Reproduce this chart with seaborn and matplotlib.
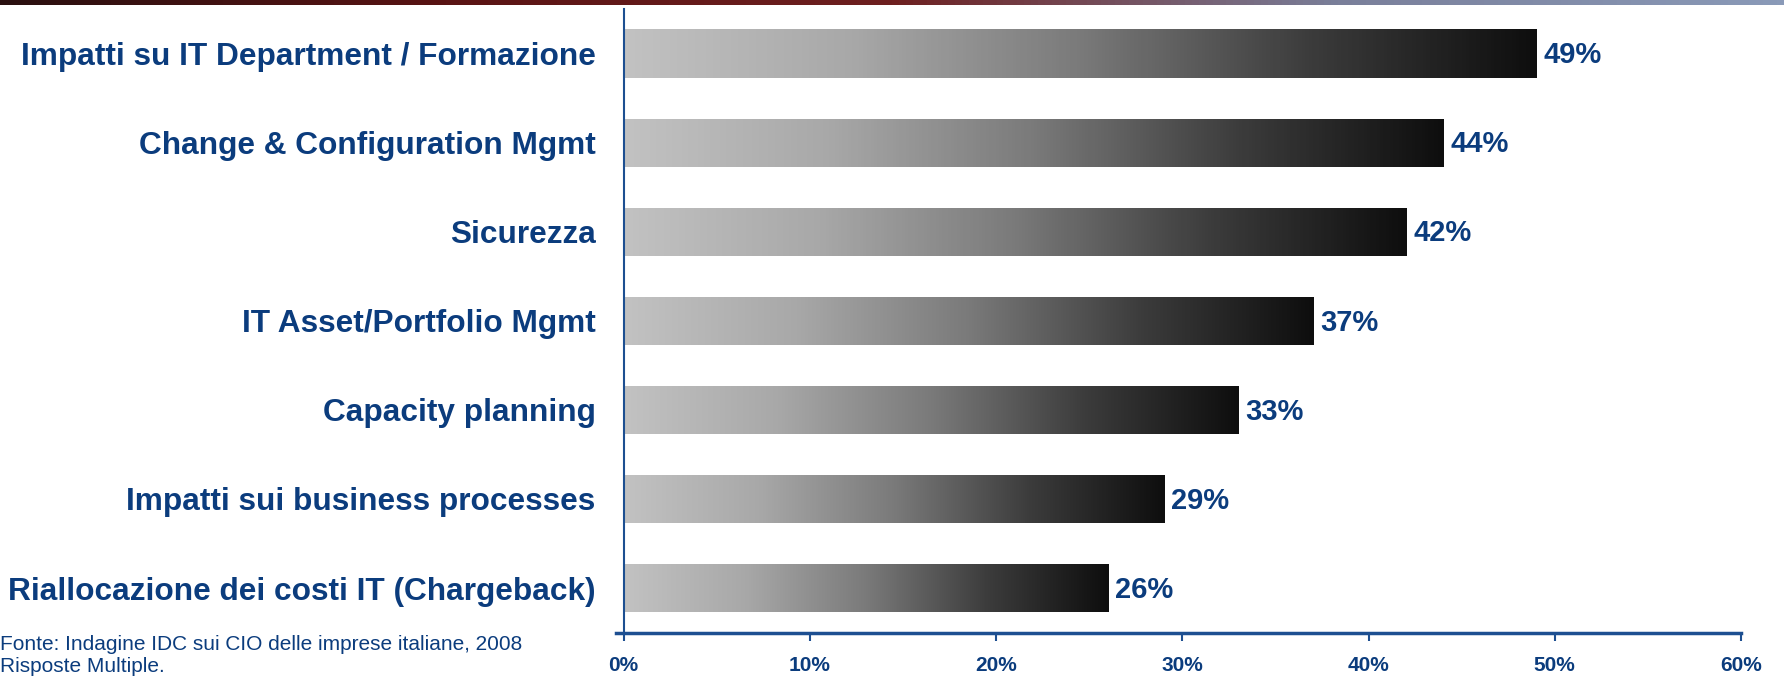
import numpy as np
import pandas as pd
import matplotlib
matplotlib.use("Agg")
import matplotlib.pyplot as plt
from matplotlib.colors import LinearSegmentedColormap
import seaborn as sns

categorie = [
    "Impatti su IT Department / Formazione",
    "Change & Configuration Mgmt",
    "Sicurezza",
    "IT Asset/Portfolio Mgmt",
    "Capacity planning",
    "Impatti sui business processes",
    "Riallocazione dei costi IT (Chargeback)",
]
valori = [49, 44, 42, 37, 33, 29, 26]
tick_vals = [0, 10, 20, 30, 40, 50, 60]
tick_labels = ["0%", "10%", "20%", "30%", "40%", "50%", "60%"]

BLU = "#0b3c7d"
ASSE = "#1d4f91"

sns.set_theme(style="white")
plt.rcParams["font.family"] = ["Liberation Sans", "DejaVu Sans"]

df = pd.DataFrame({"categoria": categorie, "valore": valori})

fig = plt.figure(figsize=(17.84, 6.76), dpi=100)
ax = fig.add_axes([0.3495, 0.0642, 0.6264, 0.9225])

sns.barplot(data=df, x="valore", y="categoria", ax=ax, color="#999999",
            width=0.54, orient="h")

# gradiente grigio chiaro -> nero dentro ogni barra
grad = LinearSegmentedColormap.from_list("g", ["#c2c2c2", "#a8a8a8", "#7a7a7a", "#3c3c3c", "#0e0e0e"])
row = np.linspace(0, 1, 256).reshape(1, -1)
for p in ax.patches:
    x0, y0 = p.get_x(), p.get_y()
    w, h = p.get_width(), p.get_height()
    p.set_facecolor("none")
    p.set_edgecolor("none")
    im = ax.imshow(row, cmap=grad, aspect="auto",
                   extent=[x0, x0 + w, y0 + h, y0], zorder=2)
    im.set_clip_path(p)
    ax.text(x0 + w + 0.4, y0 + h / 2 + 0.02, f"{int(round(w))}%", va="center", ha="left",
            fontsize=21, fontweight="bold", color=BLU)

ax.set_xlim(0, 60)
ax.set_ylim(6.5, -0.5)
ax.set_xticks(tick_vals)
ax.set_xticklabels(tick_labels, fontsize=15, fontweight="bold", color=BLU)
ax.set_xlabel("")
ax.set_ylabel("")
ax.tick_params(axis="x", direction="out", length=6, width=1.5, color=ASSE, pad=11, bottom=True)
ax.tick_params(axis="y", length=0, pad=20)
for lab in ax.get_yticklabels():
    lab.set_fontsize(22.8)
    lab.set_fontweight("bold")
    lab.set_color(BLU)

for s in ["top", "right"]:
    ax.spines[s].set_visible(False)
ax.spines["left"].set_color(ASSE)
ax.spines["left"].set_linewidth(1.5)
ax.spines["bottom"].set_color(ASSE)
ax.spines["bottom"].set_linewidth(2.5)
ax.spines["bottom"].set_bounds(-0.4, 60)
ax.spines["bottom"].set_clip_on(False)

# banda colorata in alto
band = fig.add_axes([0, 0.993, 1, 0.007])
band_cmap = LinearSegmentedColormap.from_list("b", ["#2a1010", "#5a1414", "#6e2020", "#7a7f9a", "#8a9ab8"])
band.imshow(row, cmap=band_cmap, aspect="auto")
band.axis("off")

fig.text(0.0, 0.046, "Fonte: Indagine IDC sui CIO delle imprese italiane, 2008",
         fontsize=15, color=BLU, va="center", ha="left")
fig.text(0.0, 0.0, "Risposte Multiple.", fontsize=15, color=BLU, va="bottom", ha="left")

fig.savefig("out.png", dpi=100)
